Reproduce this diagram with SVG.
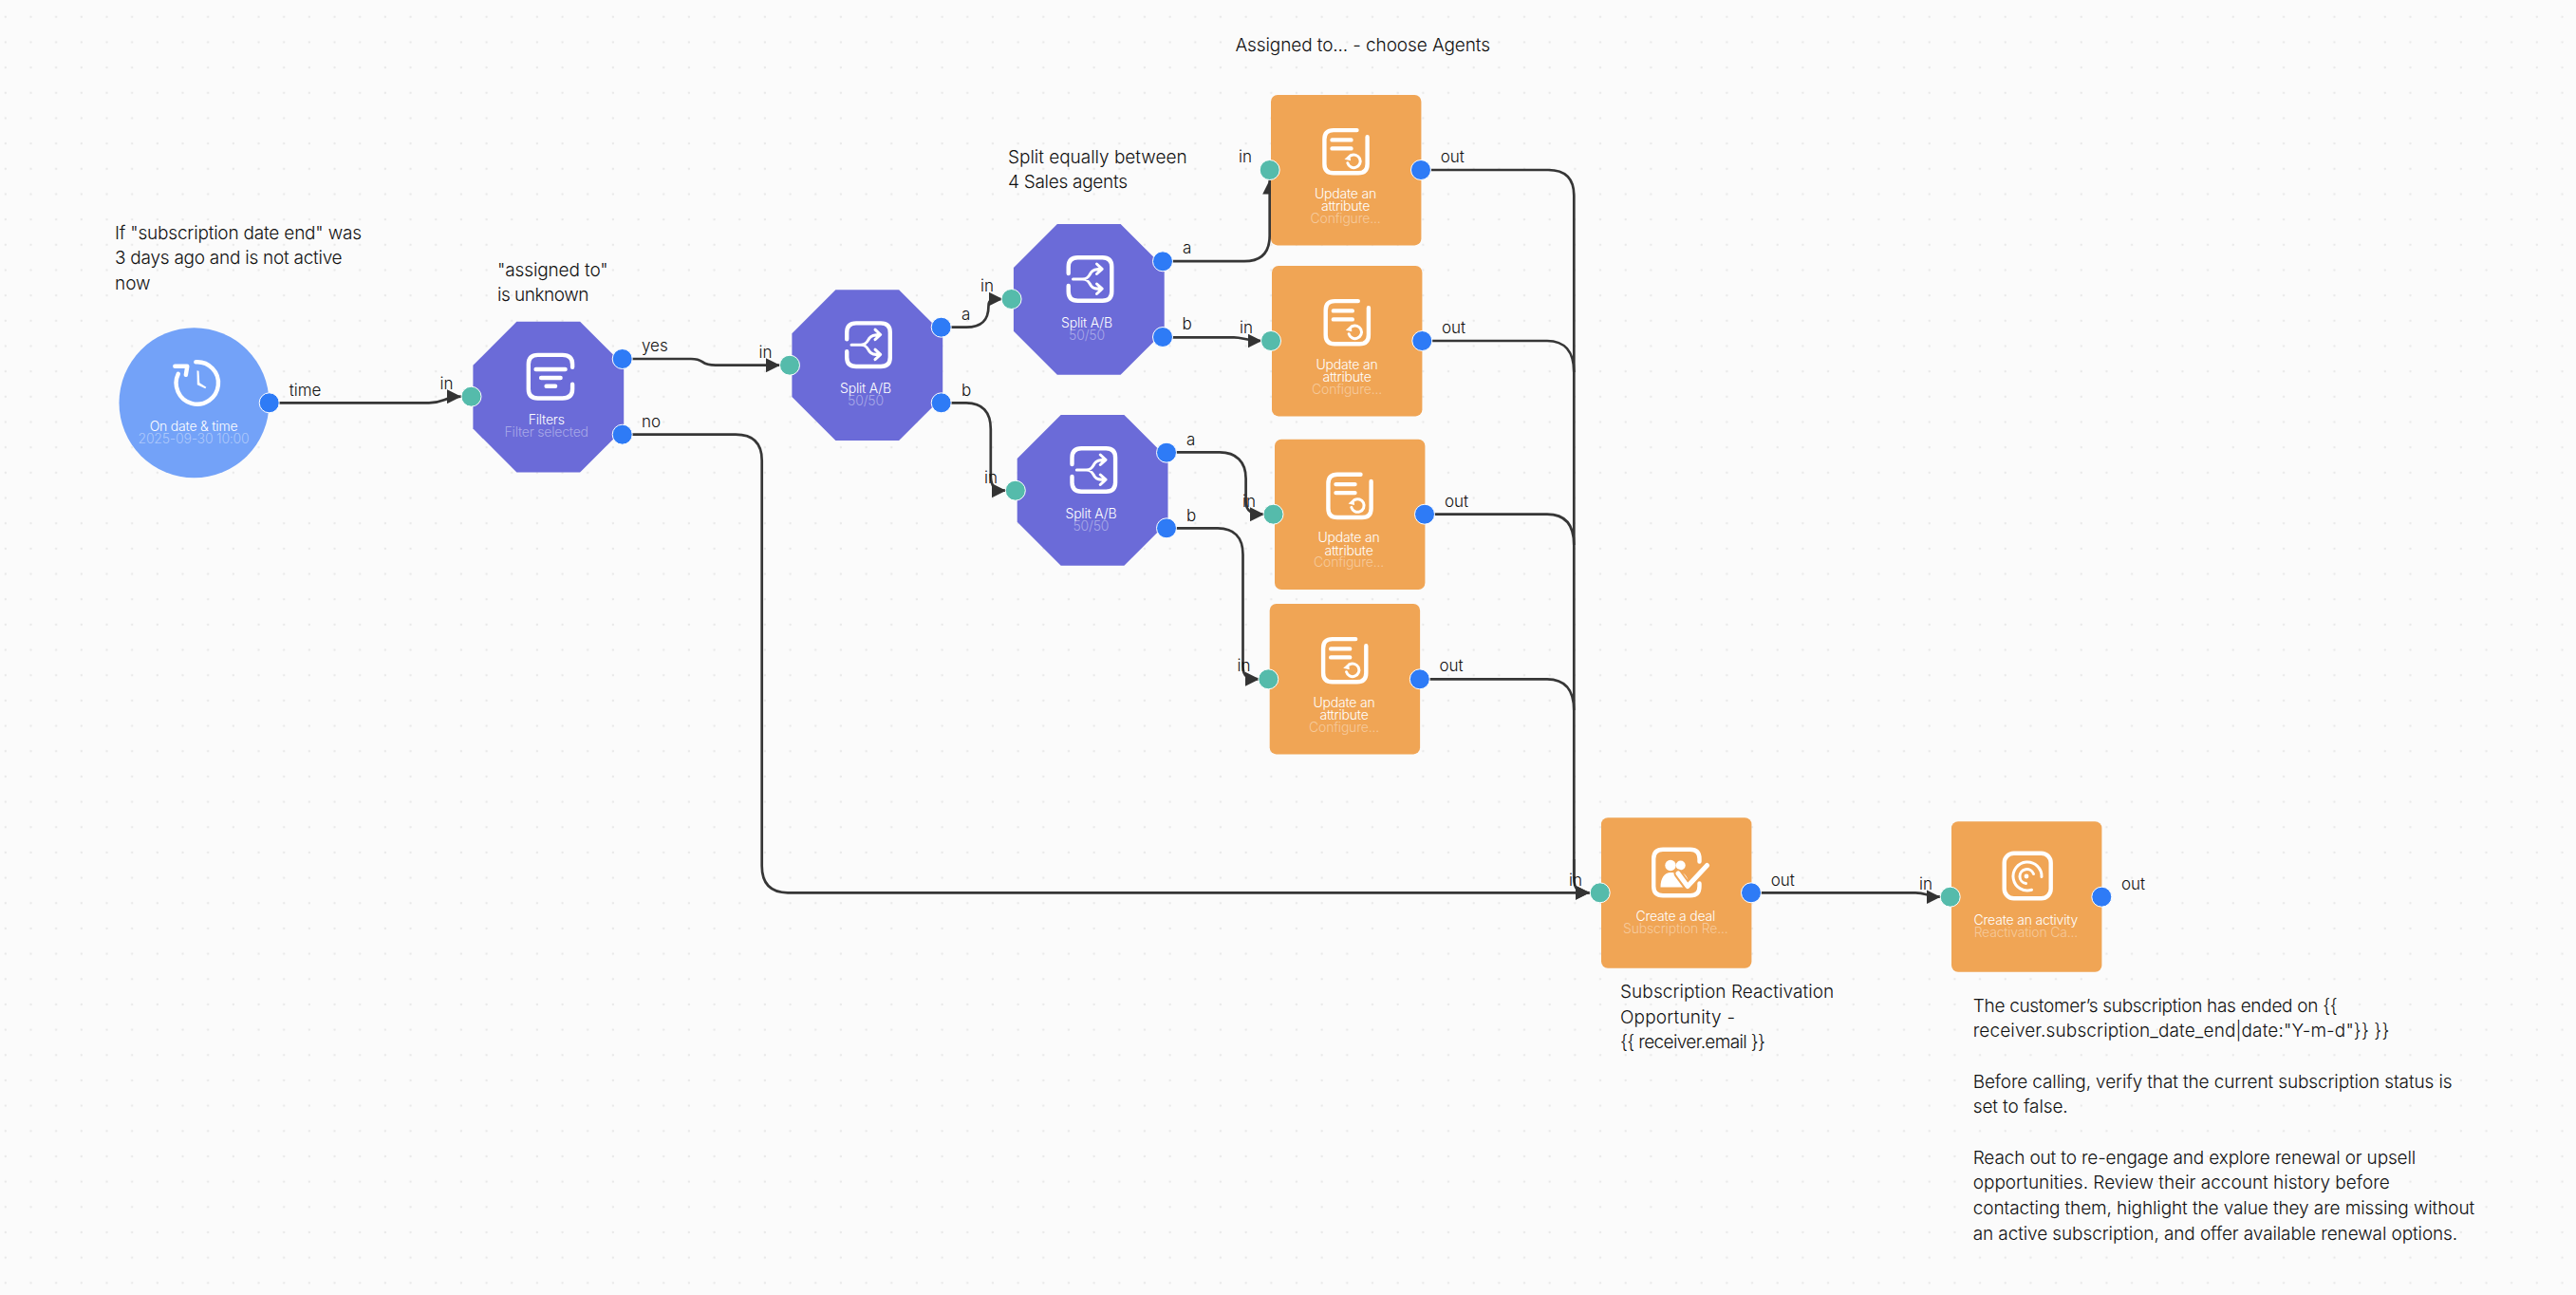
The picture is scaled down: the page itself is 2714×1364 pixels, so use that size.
<svg xmlns="http://www.w3.org/2000/svg" xmlns:xlink="http://www.w3.org/1999/xlink" width="2714" height="1364" viewBox="0 0 2714 1364">
<style>
text{font-family:"Inter","Noto Sans","Liberation Sans",sans-serif}
.note{font-size:19px;fill:#111;font-weight:300}
.lab{font-size:17px;fill:#111;font-weight:300}
.t{font-size:14px;fill:#fff;text-anchor:middle;letter-spacing:-.2px;font-weight:300}
.s{font-size:14px;fill:#fff;fill-opacity:.42;text-anchor:middle;letter-spacing:-.2px;font-weight:300}
.c{fill:none;stroke:#363636;stroke-width:2.7;marker-end:url(#arr)}
.c2{fill:none;stroke:#363636;stroke-width:2.7}
.pi{fill:#55bbab;stroke:#fff;stroke-width:1}
.po{fill:#2e7bf6;stroke:#fff;stroke-width:1}
.oct{fill:#6b6bd8}
.box{fill:#f0a555}
.ic{fill:none;stroke:#fff;stroke-width:4.4;stroke-linecap:round;stroke-linejoin:round}
.ic3{fill:none;stroke:#fff;stroke-width:3;stroke-linecap:round;stroke-linejoin:round}
</style>
<defs>
<pattern id="dots" patternUnits="userSpaceOnUse" width="26.67" height="26.67"><circle cx="5.8" cy="17.7" r="1.2" fill="#e9e9e9"/></pattern>
<marker id="arr" markerUnits="userSpaceOnUse" viewBox="0 0 15 15" refX="15" refY="7.5" markerWidth="15" markerHeight="15" orient="auto"><path d="M0,0 L15,7.5 L0,15Z" fill="#333"/></marker>
<polygon id="oct" class="oct" points="46,0 112.7,0 158.8,46 158.8,112.7 112.7,158.8 46,158.8 0,112.7 0,46"/>
<rect id="box" class="box" width="158.4" height="158.4" rx="7"/>
<g id="i-filter"><path class="ic" d="M48.5,15 V12 Q48.5,2.2 38,2.2 H12 Q2.2,2.2 2.2,12 V38 Q2.2,47.8 12,47.8 H38 Q48.5,47.8 48.5,38 V33"/><path class="ic" d="M10,17.3 H41 M15.5,26.3 H36 M21,35 H30.5"/></g>
<g id="i-split"><path class="ic" d="M2.2,19 V12 Q2.2,2.2 12,2.2 H38 Q47.8,2.2 47.8,12 V38 Q47.8,47.8 38,47.8 H12 Q2.2,47.8 2.2,38 V32"/><path class="ic3" d="M7,25 H17 C23,25 24,21 26,18 C28,15 31,14.3 37.5,14.3 M32,9 L37.7,14.3 L32,19.5 M17,25 C23,25 24,29 26,32 C28,35 31,35.2 37.5,35.2 M32,30 L37.7,35.2 L32,40.5"/></g>
<g id="i-update"><path class="ic" d="M36.5,2.4 H12 Q2.4,2.4 2.4,12 V38 Q2.4,47.6 12,47.6 H38 Q47.6,47.6 47.6,38 V9.5"/><path class="ic" d="M10.5,12.7 H30.5 M10.5,21.7 H30.5" stroke-width="4"/><path class="ic3" stroke-width="2.6" d="M30,29.2 A6.8,6.8 0 1 1 26.8,37"/><path d="M23.5,33 L29.5,27.5 L30,34.5Z" fill="#fff"/></g>
</defs>
<rect width="2714" height="1364" fill="#fbfbfb"/>
<rect width="2714" height="1364" fill="url(#dots)"/>

<g id="connectors">
<path class="c" d="M284,424.3 H452 C468,424.3 468,417.7 486,417.7"/>
<path class="c" d="M656,378 H728 C744,378 736,384.7 754,384.7 H822"/>
<path class="c" d="M656,457.7 H775 Q802.7,457.7 802.7,485 V912 Q802.7,940 830,940.3 H1675"/>
<path class="c" d="M992,344.7 H1018 C1034,344.7 1041.5,338 1041.5,322 C1041.5,316 1044,315 1056.5,315"/>
<path class="c" d="M992,424.3 H1018 C1035,424.3 1043.8,434 1043.8,452 V500 C1043.8,513 1048,516.7 1060,516.7"/>
<path class="c" d="M1226,275.2 H1311 Q1337.7,275.2 1337.7,248 V189.5"/>
<path class="c" d="M1225,355.3 H1300 C1310,355.3 1312,359 1329.5,359"/>
<path class="c" d="M1229,476.4 H1285 C1302,476.4 1312.6,486 1312.6,504 V528 C1312.6,538 1318,541.7 1332,541.7"/>
<path class="c" d="M1229,556.3 H1283 C1300,556.3 1309.5,566 1309.5,584 V702 C1309.5,712 1314,715.3 1327,715.3"/>
<path class="c2" d="M1497,179 H1631 Q1658.3,179 1658.3,206 V925"/>
<path class="c2" d="M1498,359 H1630 C1648,359 1658.3,370 1658.3,392"/>
<path class="c2" d="M1501,541.7 H1630 C1648,541.7 1658.3,552 1658.3,574"/>
<path class="c2" d="M1496,715.3 H1630 C1648,715.3 1658.3,726 1658.3,748"/>
<path class="c" d="M1658.3,905 V925 C1658.3,936 1662,940.3 1675,940.3"/>
<path class="c" d="M1845,940.3 H2018 C2030,940.3 2030,944.7 2044.5,944.7"/>
</g>

<g id="trigger">
<circle cx="204.5" cy="424.3" r="79" fill="#73a2f8"/>
<g transform="translate(208.3,403.3)"><path class="ic" d="M-2,-22 A22.2,22.2 0 1 1 -20.5,-9.5" stroke-width="4.6"/><path class="ic" d="M-24,-17.5 H-11 L-12.5,-8.5" stroke-width="4.6"/><path d="M-0.8,-13 L1.2,-12.5 L2,0 L9,4.5 L8,6 L-0.5,2Z" fill="#fff"/></g>
<text class="t" x="204" y="454">On date &amp; time</text>
<text class="s" x="204" y="467">2025-09-30 10:00</text>
<circle class="po" cx="283.7" cy="424.3" r="10.5"/>
<text class="lab" x="304.7" y="417.3">time</text>
</g>

<g id="filters">
<use href="#oct" x="498.4" y="338.8"/>
<use href="#i-filter" x="554.6" y="371.7"/>
<text class="t" x="575.7" y="446.7">Filters</text>
<text class="s" x="575.7" y="460">Filter selected</text>
<circle class="pi" cx="496.5" cy="417.7" r="10.5"/>
<circle class="po" cx="655.7" cy="378" r="10.5"/>
<circle class="po" cx="655.7" cy="457.7" r="10.5"/>
<text class="lab" x="463.6" y="410">in</text>
<text class="lab" x="676" y="370">yes</text>
<text class="lab" x="676" y="450">no</text>
</g>

<g id="split1">
<use href="#oct" x="834.4" y="305.2"/>
<use href="#i-split" x="890" y="338.2"/>
<text class="t" x="912" y="414">Split A/B</text>
<text class="s" x="912" y="427">50/50</text>
<circle class="pi" cx="832" cy="384.7" r="10.5"/>
<circle class="po" cx="991.7" cy="344.7" r="10.5"/>
<circle class="po" cx="991.7" cy="424.3" r="10.5"/>
<text class="lab" x="799.6" y="376.7">in</text>
<text class="lab" x="1013" y="337">a</text>
<text class="lab" x="1013" y="416.7">b</text>
</g>

<g id="split2">
<use href="#oct" x="1067.9" y="236"/>
<use href="#i-split" x="1123.5" y="269"/>
<text class="t" x="1145" y="345">Split A/B</text>
<text class="s" x="1145" y="358">50/50</text>
<circle class="pi" cx="1065.6" cy="315" r="10.5"/>
<circle class="po" cx="1225" cy="275.3" r="10.5"/>
<circle class="po" cx="1225" cy="355" r="10.5"/>
<text class="lab" x="1033" y="306.7">in</text>
<text class="lab" x="1246" y="266.7">a</text>
<text class="lab" x="1245.5" y="346.7">b</text>
</g>

<g id="split3">
<use href="#oct" x="1071.7" y="437"/>
<use href="#i-split" x="1127.3" y="470"/>
<text class="t" x="1149.4" y="546">Split A/B</text>
<text class="s" x="1149.4" y="559">50/50</text>
<circle class="pi" cx="1069.8" cy="516.7" r="10.5"/>
<circle class="po" cx="1229" cy="476.7" r="10.5"/>
<circle class="po" cx="1229" cy="556.3" r="10.5"/>
<text class="lab" x="1037" y="509">in</text>
<text class="lab" x="1250" y="469">a</text>
<text class="lab" x="1250" y="549">b</text>
</g>

<g id="update1">
<use href="#box" x="1339" y="100"/>
<use href="#i-update" x="1393" y="134.7"/>
<text class="t" x="1417.5" y="209">Update an</text>
<text class="t" x="1417.5" y="222">attribute</text>
<text class="s" x="1417.5" y="235">Configure...</text>
<circle class="pi" cx="1337.7" cy="179" r="10.5"/>
<circle class="po" cx="1497" cy="179" r="10.5"/>
<text class="lab" x="1305" y="171">in</text>
<text class="lab" x="1517.7" y="171">out</text>
</g>

<g id="update2">
<use href="#box" x="1340" y="280"/>
<use href="#i-update" x="1394.3" y="314.7"/>
<text class="t" x="1419" y="389">Update an</text>
<text class="t" x="1419" y="402">attribute</text>
<text class="s" x="1419" y="415">Configure...</text>
<circle class="pi" cx="1339" cy="359" r="10.5"/>
<circle class="po" cx="1498.3" cy="359" r="10.5"/>
<text class="lab" x="1306" y="351">in</text>
<text class="lab" x="1519" y="351">out</text>
</g>

<g id="update3">
<use href="#box" x="1343" y="462.7"/>
<use href="#i-update" x="1397" y="497.4"/>
<text class="t" x="1421" y="571">Update an</text>
<text class="t" x="1421" y="584.5">attribute</text>
<text class="s" x="1421" y="597">Configure...</text>
<circle class="pi" cx="1341.5" cy="541.7" r="10.5"/>
<circle class="po" cx="1501" cy="541.7" r="10.5"/>
<text class="lab" x="1309" y="534.3">in</text>
<text class="lab" x="1522" y="534.3">out</text>
</g>

<g id="update4">
<use href="#box" x="1337.7" y="636"/>
<use href="#i-update" x="1391.7" y="670.7"/>
<text class="t" x="1416" y="745">Update an</text>
<text class="t" x="1416" y="758">attribute</text>
<text class="s" x="1416" y="771">Configure...</text>
<circle class="pi" cx="1336.3" cy="715.3" r="10.5"/>
<circle class="po" cx="1495.8" cy="715.3" r="10.5"/>
<text class="lab" x="1303.6" y="707">in</text>
<text class="lab" x="1516.5" y="707">out</text>
</g>

<g id="deal">
<use href="#box" x="1687" y="861.3"/>
<g transform="translate(1740,892.5)">
<path class="ic" d="M50.5,15 V12 Q50.5,2.2 41,2.2 H12 Q2.2,2.2 2.2,12 V41 Q2.2,50.8 12,50.8 H41 Q50.5,50.8 50.5,41 V38"/>
<circle cx="20" cy="19" r="5.7" fill="#fff"/><circle cx="30.7" cy="19" r="5" fill="#fff"/>
<path d="M9.5,42 C9.5,32 14,26.5 20,26.5 C23,26.5 25,27 27,26 C31,25 36,28 38,33 L42,42Z" fill="#fff"/>
<path d="M28,27.5 L38,41 L58.5,19" fill="none" stroke="#f0a555" stroke-width="9" stroke-linecap="round" stroke-linejoin="round"/>
<path d="M28,27.5 L38,41 L58.5,19" fill="none" stroke="#fff" stroke-width="5" stroke-linecap="round" stroke-linejoin="round"/>
</g>
<text class="t" x="1765.3" y="970">Create a deal</text>
<text class="s" x="1765.3" y="983">Subscription Re...</text>
<circle class="pi" cx="1685.7" cy="940.3" r="10.5"/>
<circle class="po" cx="1845" cy="940.3" r="10.5"/>
<text class="lab" x="1653" y="933">in</text>
<text class="lab" x="1865.7" y="933">out</text>
</g>

<g id="activity">
<use href="#box" x="2056" y="865.3"/>
<g transform="translate(2109.5,896.5)">
<rect class="ic" x="2.2" y="2.2" width="49" height="47.6" rx="10"/>
<path class="ic3" d="M31,40.8 A15,15 0 1 1 41.5,27"/>
<path class="ic3" d="M33,24 A7.5,7.5 0 1 0 25,34"/>
<circle cx="25.5" cy="26.5" r="2.4" fill="#fff"/>
</g>
<text class="t" x="2134.3" y="974">Create an activity</text>
<text class="s" x="2134.3" y="987">Reactivation Ca...</text>
<circle class="pi" cx="2054.7" cy="944.7" r="10.5"/>
<circle class="po" cx="2214.3" cy="944.7" r="10.5"/>
<text class="lab" x="2022" y="937">in</text>
<text class="lab" x="2235" y="937">out</text>
</g>

<g id="notes">
<text class="note" x="121" y="251.7" textLength="260" lengthAdjust="spacing">If "subscription date end" was</text>
<text class="note" x="121" y="278.3" textLength="239.6" lengthAdjust="spacing">3 days ago and is not active</text>
<text class="note" x="121" y="305" textLength="37.5" lengthAdjust="spacing">now</text>
<text class="note" x="524" y="290.7" textLength="116.7" lengthAdjust="spacing">"assigned to"</text>
<text class="note" x="524" y="317.3" textLength="96.4" lengthAdjust="spacing">is unknown</text>
<text class="note" x="1062" y="171.7" textLength="188.6" lengthAdjust="spacing">Split equally between</text>
<text class="note" x="1062" y="198.3" textLength="126" lengthAdjust="spacing">4 Sales agents</text>
<text class="note" x="1301.4" y="54.3" textLength="268.6" lengthAdjust="spacing">Assigned to... - choose Agents</text>
<text class="note" x="1707" y="1051" textLength="225.3" lengthAdjust="spacing">Subscription Reactivation</text>
<text class="note" x="1707" y="1077.7" textLength="121" lengthAdjust="spacing">Opportunity -</text>
<text class="note" x="1707" y="1104.3" textLength="153" lengthAdjust="spacing">{{ receiver.email }}</text>
<text class="note" x="2078.7" y="1065.7" textLength="384" lengthAdjust="spacing">The customer’s subscription has ended on {{</text>
<text class="note" x="2078.7" y="1092.3" textLength="438.6" lengthAdjust="spacing">receiver.subscription_date_end|date:"Y-m-d"}} }}</text>
<text class="note" x="2078.7" y="1145.7" textLength="504.8" lengthAdjust="spacing">Before calling, verify that the current subscription status is</text>
<text class="note" x="2078.7" y="1172.3" textLength="100" lengthAdjust="spacing">set to false.</text>
<text class="note" x="2078.7" y="1225.7" textLength="466.5" lengthAdjust="spacing">Reach out to re-engage and explore renewal or upsell</text>
<text class="note" x="2078.7" y="1252.3" textLength="439" lengthAdjust="spacing">opportunities. Review their account history before</text>
<text class="note" x="2078.7" y="1279" textLength="528.5" lengthAdjust="spacing">contacting them, highlight the value they are missing without</text>
<text class="note" x="2078.7" y="1305.7" textLength="510.5" lengthAdjust="spacing">an active subscription, and offer available renewal options.</text>
</g>
</svg>
